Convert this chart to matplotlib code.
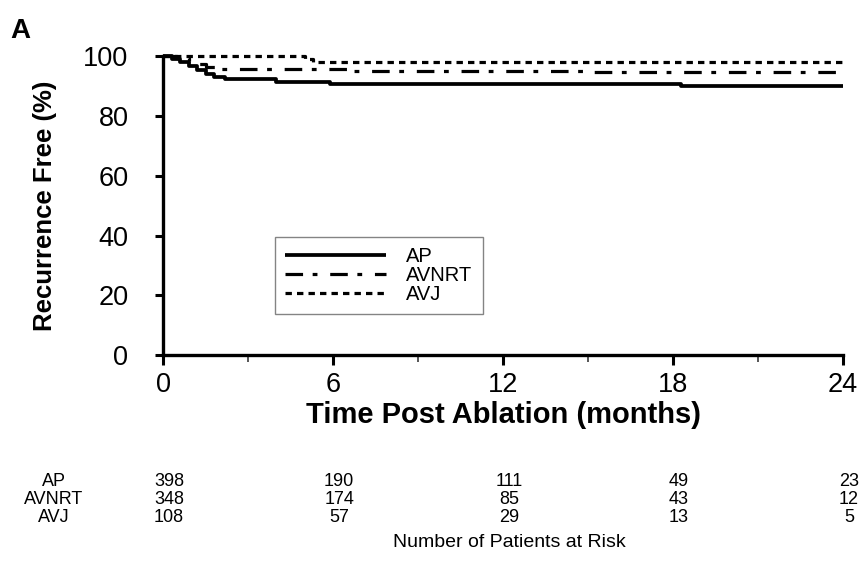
import matplotlib
matplotlib.use("Agg")
import matplotlib.pyplot as plt
import matplotlib.transforms as mtransforms
from matplotlib.ticker import MultipleLocator

plt.rcParams['font.family'] = ['Liberation Sans', 'DejaVu Sans']

# Kaplan-Meier style step data (months, % recurrence free)
ap_months = [0, 0.3, 0.6, 0.9, 1.2, 1.5, 1.8, 2.2, 4.0, 5.9, 18.3, 24]
ap_free = [100, 99.2, 98.0, 96.8, 95.5, 94.2, 93.2, 92.3, 91.3, 90.6, 89.9, 89.9]

avnrt_months = [0, 0.5, 0.9, 1.2, 1.5, 1.9, 6.5, 15.0, 24]
avnrt_free = [100, 99.5, 98.3, 97.3, 96.4, 95.6, 95.0, 94.6, 94.6]

avj_months = [0, 5.0, 5.3, 24]
avj_free = [100, 99.0, 98.2, 98.2]

# Patients at risk table
risk_months = [0, 6, 12, 18, 24]
risk_groups = ["AP", "AVNRT", "AVJ"]
risk_counts = {
    "AP": [398, 190, 111, 49, 23],
    "AVNRT": [348, 174, 85, 43, 12],
    "AVJ": [108, 57, 29, 13, 5],
}

fig = plt.figure(figsize=(8.68, 5.62), dpi=100)
ax = fig.add_axes([0.188, 0.368, 0.783, 0.532])

lw = 2.3
ax.step(ap_months, ap_free, where='post', color='black', lw=2.7,
        solid_capstyle='butt', clip_on=False, label='AP')
ax.step(avnrt_months, avnrt_free, where='post', color='black', lw=lw,
        linestyle=(0, (5.5, 3.0, 1.5, 4.0)), clip_on=False, label='AVNRT')
ax.step(avj_months, avj_free, where='post', color='black', lw=lw,
        linestyle=(0, (2.0, 1.6)), clip_on=False, label='AVJ')

ax.set_xlim(0, 24)
ax.set_ylim(0, 100)
ax.xaxis.set_major_locator(MultipleLocator(6))
ax.xaxis.set_minor_locator(MultipleLocator(3))
ax.yaxis.set_major_locator(MultipleLocator(20))

for side in ('top', 'right'):
    ax.spines[side].set_visible(False)
for side in ('left', 'bottom'):
    ax.spines[side].set_linewidth(2.4)
    ax.spines[side].set_capstyle('projecting')

ax.tick_params(axis='y', which='major', direction='out', length=6,
               width=2.2, labelsize=19.5, pad=19)
ax.tick_params(axis='x', which='major', direction='out', length=7,
               width=2.2, labelsize=19.5, pad=5)
ax.tick_params(axis='x', which='minor', direction='out', length=5,
               width=1.4, color='#555555')

ax.set_xlabel('Time Post Ablation (months)', fontsize=21,
              fontweight='bold', labelpad=2)
ax.set_ylabel('Recurrence Free (%)', fontsize=18.5, fontweight='bold',
              labelpad=19)

leg = ax.legend(loc='upper left', bbox_to_anchor=(0.165, 0.396),
                borderaxespad=0, fontsize=14.5, handlelength=5.0,
                handletextpad=1.0, labelspacing=0.0, borderpad=0.5,
                frameon=True, fancybox=False)
leg.get_frame().set_edgecolor('#666666')
leg.get_frame().set_linewidth(1.0)

fig.text(0.012, 0.945, 'A', fontsize=20, fontweight='bold',
         ha='left', va='center')

# Numbers at risk, aligned to the month ticks
shift = mtransforms.ScaledTranslation(6 / 100, 0, fig.dpi_scale_trans)
trans = mtransforms.blended_transform_factory(ax.transData, fig.transFigure) + shift
row_y = [0.143, 0.111, 0.079]
for grp, y in zip(risk_groups, row_y):
    fig.text(0.062, y, grp, fontsize=13, ha='center', va='center')
    for m, n in zip(risk_months, risk_counts[grp]):
        ax.text(m, y, str(n), fontsize=13, ha='center', va='center',
                transform=trans, clip_on=False)

ax.text(12, 0.034, 'Number of Patients at Risk', fontsize=14,
        ha='center', va='center', transform=trans, clip_on=False)

fig.savefig('out.png', dpi=100)
